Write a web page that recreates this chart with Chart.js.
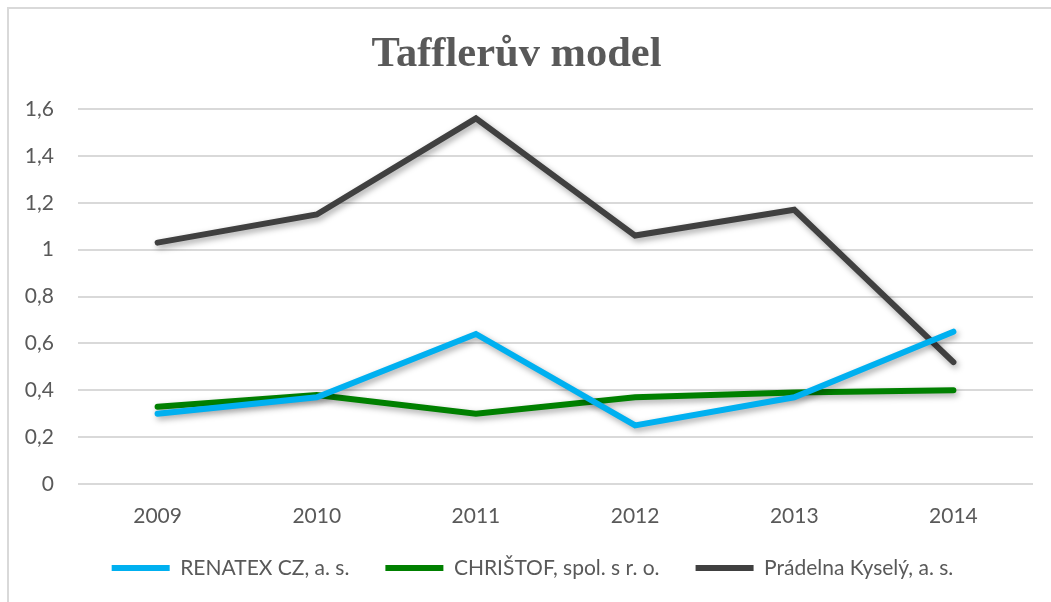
<!DOCTYPE html>
<html>
<head>
<meta charset="utf-8">
<script src="https://cdn.jsdelivr.net/npm/chart.js@4.4.0/dist/chart.umd.min.js"></script>
<style>
  body { margin: 0; background: #fff; }
  #frame {
    position: absolute; left: 7px; top: 7px; width: 1100px; height: 700px;
    border-left: 2px solid #d9d9d9; border-top: 2px solid #d9d9d9;
  }
  #wrap { position: absolute; left: 0; top: 0; width: 1051px; height: 602px; }
</style>
</head>
<body>
<div id="frame"></div>
<div id="wrap"><canvas id="chart" width="1051" height="602"></canvas></div>
<script>
// data
const years = ['2009', '2010', '2011', '2012', '2013', '2014'];
const renatex = [0.30, 0.37, 0.64, 0.25, 0.37, 0.65];
const christof = [0.33, 0.38, 0.30, 0.37, 0.39, 0.40];
const pradelna = [1.03, 1.15, 1.56, 1.06, 1.17, 0.52];
const yTickLabels = ['0', '0,2', '0,4', '0,6', '0,8', '1', '1,2', '1,4', '1,6'];

const labelFont = { family: 'Lato', size: 21 };
const textColor = '#595959';

// soft shadow under the lines, like the office chart
const shadowPlugin = {
    id: 'lineShadow',
    beforeDatasetDraw(chart) {
        const ctx = chart.ctx;
        ctx.save();
        ctx.shadowColor = 'rgba(0,0,0,0.35)';
        ctx.shadowBlur = 6;
        ctx.shadowOffsetX = 2;
        ctx.shadowOffsetY = 3;
    },
    afterDatasetDraw(chart) {
        chart.ctx.restore();
    }
};

// legend sits a little right of the canvas centre in the original
const legendShift = {
    id: 'legendShift',
    afterLayout(chart) {
        if (chart.legend) chart.legend.left += 32;
    }
};

function makeSet(label, data, color) {
    return {
        label: label,
        data: data,
        borderColor: color,
        backgroundColor: color,
        borderWidth: 6,
        borderCapStyle: 'round',
        borderJoinStyle: 'miter',
        pointRadius: 0,
        tension: 0
    };
}

new Chart(document.getElementById('chart'), {
    type: 'line',
    data: {
        labels: years,
        datasets: [
            makeSet('RENATEX CZ, a. s.', renatex, '#00b0f0'),
            makeSet('CHRIŠTOF, spol. s r. o.', christof, '#008000'),
            makeSet('Prádelna Kyselý, a. s.', pradelna, '#404040')
        ]
    },
    plugins: [shadowPlugin, legendShift],
    options: {
        responsive: false,
        animation: false,
        layout: { padding: { top: 30, right: 18, bottom: 13.5, left: 0 } },
        plugins: {
            title: {
                display: true,
                text: 'Tafflerův model',
                color: textColor,
                font: { family: 'Liberation Serif', size: 42.5, weight: 'bold' },
                padding: { top: 0, bottom: 28 }
            },
            legend: {
                position: 'bottom',
                labels: {
                    color: textColor,
                    font: labelFont,
                    boxWidth: 58,
                    boxHeight: 6,
                    padding: 36,
                    generateLabels(chart) {
                        return chart.data.datasets.map((ds, i) => ({
                            text: ds.label,
                            fillStyle: ds.borderColor,
                            strokeStyle: ds.borderColor,
                            lineWidth: 0,
                            fontColor: textColor,
                            datasetIndex: i
                        }));
                    }
                }
            },
            tooltip: { enabled: false }
        },
        scales: {
            x: {
                offset: true,
                grid: { display: false, drawTicks: false },
                border: { display: false },
                ticks: { color: textColor, font: labelFont, padding: 19.5 },
                afterFit(scale) {
                    scale.height = 37.5;
                    // labels hang a bit below the short axis box, do not clip them
                    scale._computeLabelArea = () => undefined;
                }
            },
            y: {
                min: 0,
                max: 1.6,
                grid: { color: '#d9d9d9', lineWidth: 2, drawTicks: false },
                border: { display: false },
                ticks: {
                    stepSize: 0.2,
                    color: textColor,
                    font: labelFont,
                    padding: 24,
                    callback: (v, i) => yTickLabels[i]
                },
                afterFit(scale) { scale.width = 78; }
            }
        }
    }
});
</script>
</body>
</html>
